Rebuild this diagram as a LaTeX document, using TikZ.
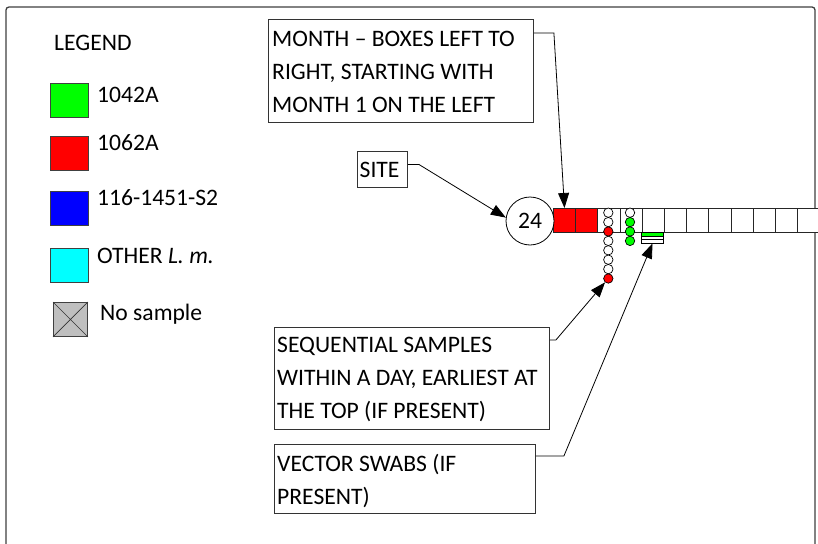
\documentclass[tikz,border=0pt]{standalone}
\usepackage{fontspec}
\setmainfont{Carlito}
\usetikzlibrary{arrows.meta}
\begin{document}
\begin{tikzpicture}[x=1pt,y=-1pt,
  lbl/.style={inner sep=0pt, font=\fontsize{23.6}{33}\selectfont, align=left},
  box/.style={draw=black!80, line width=0.9pt, inner sep=0pt, anchor=north west},
  key/.style={draw=black!75, line width=0.9pt, inner sep=0pt, anchor=north west,
    minimum width=38pt, minimum height=34pt},
  cell/.style={draw=black!85, line width=0.8pt, inner sep=0pt, anchor=north west,
    minimum width=22.2pt, minimum height=24pt, fill=white},
  dot/.style={circle, draw=black, line width=0.7pt, inner sep=0pt, minimum size=9.4pt},
  swab/.style={draw=black, line width=0.6pt, inner sep=0pt, anchor=north,
    minimum width=21.6pt, minimum height=3.6pt, fill=white},
  conn/.style={draw=black, line width=0.8pt, -{Triangle[length=15pt,width=11pt]}},
  frame/.style={draw=black!75, line width=1.3pt}]

% page and outer frame
\fill[white] (0,0) rectangle (818,543);
\useasboundingbox (0,0) rectangle (818,543);
\begin{scope}
\clip (0,0) rectangle (818,543);
\draw[frame, rounded corners=3pt] (6,560) -- (6,7) -- (815,7) -- (815,560);
\end{scope}

% legend
\node[lbl, anchor=base west] (legtitle) at (54,51) {LEGEND};
\node[key, fill={rgb,255:red,0;green,255;blue,0}] (kgreen) at (50,83) {};
\node[lbl, anchor=base west] (tgreen) at (97,102) {1042A};
\node[key, fill={rgb,255:red,255;green,0;blue,0}] (kred) at (50,136) {};
\node[lbl, anchor=base west] (tred) at (97,150) {1062A};
\node[key, fill={rgb,255:red,0;green,0;blue,255}] (kblue) at (50,191) {};
\node[lbl, anchor=base west] (tblue) at (97,205) {116-1451-S2};
\node[key, fill={rgb,255:red,0;green,255;blue,255}] (kcyan) at (50,248) {};
\node[lbl, anchor=base west] (tcyan) at (97,263) {OTHER \textit{L. m.}};
\node[key, fill=black!25, minimum width=34pt] (kno) at (53,302) {};
\draw[black!80, line width=0.7pt] (kno.north west) -- (kno.south east)
  (kno.north east) -- (kno.south west);
\node[lbl, anchor=base west] (tno) at (100,320) {No sample};

% callout boxes (multi-line labels are placed by the baseline of their last line)
\node[box, minimum width=265pt, minimum height=103pt] (monthbox) at (268,19) {};
\node[lbl, anchor=base west] (monthtxt) at (272,112)
  {MONTH – BOXES LEFT TO\\RIGHT, STARTING WITH\\MONTH 1 ON THE LEFT};
\node[box, minimum width=50pt, minimum height=36pt] (sitebox) at (357,151) {};
\node[lbl, anchor=base west] (sitetxt) at (359.5,177) {SITE};
\node[box, minimum width=275pt, minimum height=102pt] (seqbox) at (274,327) {};
\node[lbl, anchor=base west] (seqtxt) at (277,418)
  {SEQUENTIAL SAMPLES\\WITHIN A DAY, EARLIEST AT\\THE TOP (IF PRESENT)};
\node[box, minimum width=261pt, minimum height=69pt] (vecbox) at (274,444) {};
\node[lbl, anchor=base west] (vectxt) at (277,504) {VECTOR SWABS (IF\\PRESENT)};

% month cells
\foreach \i in {1,...,12} {
  \node[cell] (m\i) at ({553+22.2*(\i-1)},208) {};
}
\node[cell, fill={rgb,255:red,255;green,0;blue,0}] (m1) at (553,208) {};
\node[cell, fill={rgb,255:red,255;green,0;blue,0}] (m2) at (575.2,208) {};

% site circle
\node[circle, draw=black, line width=0.8pt, fill=white, minimum size=48pt, inner sep=0pt,
  font=\fontsize{23.6}{27}\selectfont] (site) at (530,221) {24};

% samples within a day
\foreach \k/\c in {1/white,2/white,3/red,4/white,5/white,6/white,7/white,8/red} {
  \node[dot, fill=\c] (a\k) at (608.3,{212.7+9.4*(\k-1)}) {};
}
\foreach \k/\c in {1/white,2/green,3/green,4/green} {
  \node[dot, fill=\c] (b\k) at (630,{212.7+9.4*(\k-1)}) {};
}

% vector swabs
\node[swab, fill={rgb,255:red,0;green,255;blue,0}] (sw1) at (652.5,232) {};
\node[swab] (sw2) at (652.5,235.6) {};
\node[swab] (sw3) at (652.5,239.2) {};

% connectors
\draw[conn] ([yshift=5pt]sitebox.east) -- ++(11,0) -- (site.172);
\draw[conn] ([yshift=-14pt]monthbox.north east) -- ++(20,0) -- (m1.north);
\draw[conn] ([yshift=-13pt]seqbox.north east) -- ++(6,0) -- (a8);
\draw[conn] ([yshift=-12pt]vecbox.north east) -- ++(28,0) -- (sw3.south);
\end{tikzpicture}
\end{document}
